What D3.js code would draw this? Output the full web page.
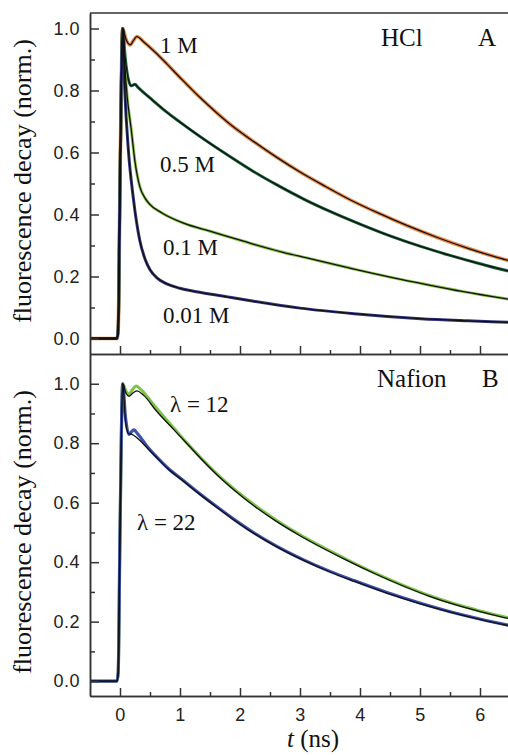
<!DOCTYPE html>
<html lang="en">
  <head>
    <meta charset="utf-8" />
    <script src="https://d3js.org/d3.v7.min.js"></script>
    <style>
      body {
        margin: 0;
        background: white;
      }
      .axis text {
        font-family: "Liberation Sans", Arial, sans-serif;
        font-size: 18px;
        letter-spacing: 0.5px;
        fill: #222;
      }
      .axis path,
      .axis line {
        stroke: #333;
        stroke-width: 1.5;
      }
      .label {
        font-family: "Liberation Serif", "Times New Roman", serif;
        fill: #111;
      }
    </style>
    <title>fluorescence decay</title>
  </head>

  <body>
    <svg id="chart" width="508" height="755"></svg>

    <script>
      // [t (ns), normalized intensity]
      const hcl1M = [
        [-0.5, 0], [-0.05, 0], [-0.03, 0.03], [0, 0.5], [0.045, 1.0],
        [0.1, 0.965], [0.17, 0.947], [0.22, 0.96], [0.28, 0.974], [0.4, 0.956],
        [0.6, 0.921], [0.78, 0.886], [1.0, 0.842], [1.33, 0.778], [1.6, 0.73],
        [1.83, 0.692], [2.23, 0.635], [2.6, 0.586], [3.0, 0.537], [3.4, 0.493],
        [3.85, 0.446], [4.3, 0.405], [4.8, 0.363], [5.3, 0.325], [5.8, 0.291],
        [6.47, 0.252], [6.6, 0.246]
      ];
      const hcl05M = [
        [-0.5, 0], [-0.05, 0], [-0.03, 0.03], [0, 0.5], [0.045, 1.0],
        [0.09, 0.9], [0.14, 0.835], [0.19, 0.815], [0.25, 0.82], [0.3, 0.81],
        [0.5, 0.776], [0.78, 0.73], [1.0, 0.698], [1.33, 0.652], [1.8, 0.591],
        [2.23, 0.538], [2.6, 0.497], [3.07, 0.449], [3.5, 0.41], [4.0, 0.369],
        [4.5, 0.331], [5.01, 0.297], [5.5, 0.268], [6.0, 0.241], [6.47, 0.218],
        [6.6, 0.213]
      ];
      const hcl01M = [
        [-0.5, 0], [-0.05, 0], [-0.03, 0.03], [0, 0.5], [0.045, 1.0],
        [0.08, 0.88], [0.12, 0.78], [0.19, 0.67], [0.25, 0.57], [0.33, 0.49],
        [0.42, 0.452], [0.5, 0.432], [0.7, 0.405], [1.06, 0.372], [1.5, 0.346],
        [1.83, 0.327], [2.23, 0.304], [2.7, 0.279], [3.2, 0.256], [3.9, 0.224],
        [4.5, 0.198], [5.01, 0.178], [5.7, 0.152], [6.47, 0.127], [6.6, 0.123]
      ];
      const hcl001M = [
        [-0.5, 0], [-0.05, 0], [-0.03, 0.03], [0, 0.5], [0.045, 1.0],
        [0.08, 0.8], [0.14, 0.607], [0.22, 0.456], [0.33, 0.316], [0.42, 0.255],
        [0.5, 0.222], [0.62, 0.195], [0.78, 0.176], [1.0, 0.162], [1.33, 0.149],
        [1.83, 0.133], [2.23, 0.12], [3.0, 0.098], [3.9, 0.08], [5.01, 0.064],
        [5.8, 0.057], [6.47, 0.052], [6.6, 0.051]
      ];

      const naf12Data = [
        [-0.5, 0], [-0.05, 0], [-0.03, 0.03], [0, 0.5], [0.045, 1.0],
        [0.1, 0.975], [0.15, 0.965], [0.2, 0.978], [0.27, 0.992], [0.35, 0.98],
        [0.5, 0.945], [0.67, 0.903], [0.9, 0.85], [1.11, 0.802], [1.35, 0.75],
        [1.61, 0.698], [1.9, 0.646], [2.23, 0.594], [2.6, 0.542], [3.0, 0.492],
        [3.4, 0.448], [3.78, 0.409], [4.25, 0.363], [4.73, 0.321], [5.15, 0.288],
        [5.57, 0.26], [6.0, 0.236], [6.47, 0.213], [6.6, 0.208]
      ];
      const naf12Fit = [
        [-0.5, 0], [-0.05, 0], [-0.03, 0.03], [0, 0.5], [0.045, 1.0],
        [0.1, 0.968], [0.15, 0.958], [0.21, 0.968], [0.28, 0.976], [0.4, 0.96],
        [0.6, 0.91], [0.9, 0.845], [1.11, 0.8], [1.35, 0.748], [1.61, 0.695],
        [1.9, 0.643], [2.23, 0.59], [2.6, 0.538], [3.0, 0.489], [3.4, 0.445],
        [3.78, 0.406], [4.25, 0.361], [4.73, 0.319], [5.15, 0.286], [5.57, 0.258],
        [6.0, 0.234], [6.47, 0.211], [6.6, 0.206]
      ];
      const naf22Data = [
        [-0.5, 0], [-0.05, 0], [-0.03, 0.03], [0, 0.5], [0.045, 1.0],
        [0.09, 0.89], [0.15, 0.83], [0.19, 0.838], [0.23, 0.845], [0.3, 0.83],
        [0.45, 0.79], [0.61, 0.754], [0.8, 0.716], [1.06, 0.674], [1.33, 0.63],
        [1.61, 0.587], [1.9, 0.544], [2.23, 0.499], [2.6, 0.455], [3.07, 0.407],
        [3.5, 0.369], [3.9, 0.338], [4.45, 0.298], [5.01, 0.262], [5.7, 0.223],
        [6.47, 0.188], [6.6, 0.183]
      ];
      const naf22Fit = [
        [-0.5, 0], [-0.05, 0], [-0.03, 0.03], [0, 0.5], [0.045, 1.0],
        [0.09, 0.88], [0.14, 0.832], [0.2, 0.83], [0.3, 0.815], [0.45, 0.785],
        [0.61, 0.752], [0.8, 0.714], [1.06, 0.672], [1.33, 0.628], [1.61, 0.585],
        [1.9, 0.542], [2.23, 0.497], [2.6, 0.453], [3.07, 0.405], [3.5, 0.367],
        [3.9, 0.336], [4.45, 0.296], [5.01, 0.26], [5.7, 0.222], [6.47, 0.187],
        [6.6, 0.182]
      ];

      const xMajor = [0, 1, 2, 3, 4, 5, 6];
      const xMinor = [0.5, 1.5, 2.5, 3.5, 4.5, 5.5];
      const yMajor = [0, 0.2, 0.4, 0.6, 0.8, 1.0];
      const yMinor = [0.1, 0.3, 0.5, 0.7, 0.9];

      const svg = d3.select("svg#chart");

      const x = d3.scaleLinear().domain([-0.5, 6.5]).range([90, 510]);
      const yA = d3.scaleLinear().domain([-0.05, 1.05]).range([354, 13]);
      const yB = d3.scaleLinear().domain([-0.05, 1.1]).range([696, 354]);

      const clip = svg.append("defs").append("clipPath").attr("id", "plotclip");
      clip.append("rect").attr("x", 90).attr("y", 13).attr("width", 420).attr("height", 683);

      function drawCurve(yScale, pts, color, w) {
        const line = d3
          .line()
          .x(d => x(d[0]))
          .y(d => yScale(d[1]))
          .curve(d3.curveMonotoneX);
        svg
          .append("path")
          .datum(pts)
          .attr("clip-path", "url(#plotclip)")
          .attr("fill", "none")
          .attr("stroke", color)
          .attr("stroke-width", w)
          .attr("stroke-linejoin", "round")
          .attr("d", line);
      }

      // panel A, data then fit
      drawCurve(yA, hcl1M, "#ec8a45", 3.6);
      drawCurve(yA, hcl05M, "#1e6a3c", 3);
      drawCurve(yA, hcl01M, "#8cc54a", 3);
      drawCurve(yA, hcl001M, "#34377f", 3);
      [hcl1M, hcl05M, hcl01M, hcl001M].forEach(s => drawCurve(yA, s, "#111", 1.3));

      // panel B
      drawCurve(yB, naf12Data, "#7dc246", 3);
      drawCurve(yB, naf22Data, "#3d51ad", 3.2);
      drawCurve(yB, naf12Fit, "#111", 1.3);
      drawCurve(yB, naf22Fit, "#111", 1.3);

      function yAxes(yScale) {
        svg
          .append("g")
          .attr("class", "axis")
          .attr("transform", `translate(${x.range()[0]},0)`)
          .call(
            d3.axisLeft(yScale).tickValues(yMajor).tickSizeInner(-9).tickSizeOuter(0)
              .tickPadding(10).tickFormat(d3.format(".1f"))
          );
        svg
          .append("g")
          .attr("class", "axis")
          .attr("transform", `translate(${x.range()[0]},0)`)
          .call(d3.axisLeft(yScale).tickValues(yMinor).tickSizeInner(-5).tickSizeOuter(0).tickFormat(""));
      }
      yAxes(yA);
      yAxes(yB);

      function xAxes(yPos, labels) {
        const major = d3.axisBottom(x).tickValues(xMajor).tickSizeInner(-8).tickSizeOuter(0)
          .tickPadding(12).tickFormat(labels ? d3.format("d") : "");
        svg.append("g").attr("class", "axis").attr("transform", `translate(0,${yPos})`).call(major);
        svg
          .append("g")
          .attr("class", "axis")
          .attr("transform", `translate(0,${yPos})`)
          .call(d3.axisBottom(x).tickValues(xMinor).tickSizeInner(-4).tickSizeOuter(0).tickFormat(""));
      }
      xAxes(yA.range()[0], false);
      xAxes(yB.range()[0], true);

      // top border
      svg
        .append("line")
        .attr("x1", x.range()[0])
        .attr("x2", x.range()[1])
        .attr("y1", yA.range()[1])
        .attr("y2", yA.range()[1])
        .attr("stroke", "#333")
        .attr("stroke-width", 1.5);

      // y titles
      [181, 532].forEach(cy => {
        svg
          .append("text")
          .attr("class", "label")
          .attr("text-anchor", "middle")
          .attr("transform", `translate(31,${cy}) rotate(-90)`)
          .attr("font-size", "26px")
          .text("fluorescence decay (norm.)");
      });

      const xTitle = svg
        .append("text")
        .attr("class", "label")
        .attr("text-anchor", "middle")
        .attr("x", 313)
        .attr("y", 747)
        .attr("font-size", "25px");
      xTitle.append("tspan").attr("font-style", "italic").text("t");
      xTitle.append("tspan").text(" (ns)");

      const notes = [
        ["1 M", 160, 53, 23],
        ["0.5 M", 160, 172, 23],
        ["0.1 M", 163, 255, 23],
        ["0.01 M", 163, 323, 23],
        ["HCl", 381, 46, 25],
        ["A", 478, 46, 25],
        ["Nafion", 377, 387, 25],
        ["B", 482, 387, 25],
        ["λ = 12", 170, 412, 23],
        ["λ = 22", 137, 530, 23]
      ];
      svg
        .selectAll("text.note")
        .data(notes)
        .join("text")
        .attr("class", "label note")
        .attr("x", d => d[1])
        .attr("y", d => d[2])
        .attr("font-size", d => d[3] + "px")
        .text(d => d[0]);
    </script>
  </body>
</html>
